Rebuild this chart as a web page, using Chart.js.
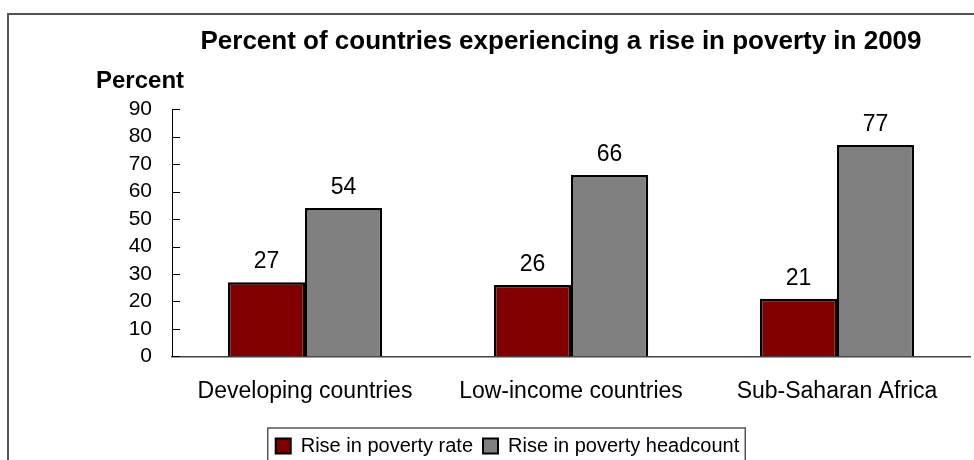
<!DOCTYPE html>
<html>
<head>
<meta charset="utf-8">
<script src="https://cdn.jsdelivr.net/npm/chart.js@4.4.1/dist/chart.umd.min.js"></script>
<style>
  html, body { margin: 0; padding: 0; background: #fff; overflow: hidden; }
  #wrap { position: relative; width: 974px; height: 460px; overflow: hidden; }
  #frame { position: absolute; left: 7px; top: 13px; width: 980px; height: 460px;
           border-top: 2px solid #555; border-left: 2px solid #555; }
  #chart { position: absolute; left: 0; top: 0; }
</style>
</head>
<body>
<div id="wrap">
  <div id="frame"></div>
  <canvas id="chart" width="974" height="466"></canvas>
</div>
<script>
// Veriler
const categories = ['Developing countries', 'Low-income countries', 'Sub-Saharan Africa'];
const povertyRate = [27, 26, 21];
const povertyHeadcount = [54, 66, 77];
const yTicks = [0, 10, 20, 30, 40, 50, 60, 70, 80, 90];

const FONT = 'Liberation Sans, Arial, sans-serif';

// Başlığı sağa kaydır (orijinaldeki gibi)
const titleShift = {
    id: 'titleShift',
    afterLayout(chart) {
        const t = chart.titleBlock;
        if (t) {
            t.left = 152;
            t.right = 970;
        }
    }
};

// Y ekseni: içe dönük çentikler ve "Percent" yazısı
const axisExtras = {
    id: 'axisExtras',
    afterDraw(chart) {
        const ctx = chart.ctx;
        const y = chart.scales.y;
        const x0 = chart.chartArea.left;
        ctx.save();
        ctx.strokeStyle = '#000';
        ctx.lineWidth = 1;
        yTicks.forEach(v => {
            const py = Math.round(y.getPixelForValue(v)) + 0.5;
            ctx.beginPath();
            ctx.moveTo(x0, py);
            ctx.lineTo(x0 + 8, py);
            ctx.stroke();
        });
        ctx.fillStyle = '#000';
        ctx.font = 'bold 24px ' + FONT;
        ctx.textAlign = 'left';
        ctx.textBaseline = 'alphabetic';
        ctx.fillText('Percent', 96, 88);
        ctx.restore();
    }
};

// Çubukların üstüne değer yaz
const barLabels = {
    id: 'barLabels',
    afterDatasetsDraw(chart) {
        const ctx = chart.ctx;
        ctx.save();
        ctx.fillStyle = '#000';
        ctx.font = '23px ' + FONT;
        ctx.textAlign = 'center';
        ctx.textBaseline = 'alphabetic';
        chart.data.datasets.forEach((ds, i) => {
            chart.getDatasetMeta(i).data.forEach((bar, j) => {
                ctx.fillText(ds.data[j], bar.x, bar.y - 14);
            });
        });
        ctx.restore();
    }
};

// Lejant çerçevesi
const legendBox = {
    id: 'legendBox',
    afterDraw(chart) {
        const lg = chart.legend;
        if (!lg || !lg.legendHitBoxes.length) return;
        const first = lg.legendHitBoxes[0];
        const last = lg.legendHitBoxes[lg.legendHitBoxes.length - 1];
        const ctx = chart.ctx;
        ctx.save();
        ctx.strokeStyle = '#555';
        ctx.lineWidth = 1.5;
        ctx.strokeRect(first.left - 8, first.top - 8, last.left + last.width - first.left + 14, 60);
        ctx.restore();
    }
};

new Chart(document.getElementById('chart'), {
    type: 'bar',
    data: {
        labels: categories,
        datasets: [
            {
                label: 'Rise in poverty rate',
                data: povertyRate,
                backgroundColor: '#800000',
                borderColor: '#000',
                borderWidth: 2.5,
                categoryPercentage: 0.58,
                barPercentage: 1.0
            },
            {
                label: 'Rise in poverty headcount',
                data: povertyHeadcount,
                backgroundColor: '#808080',
                borderColor: '#000',
                borderWidth: 2.5,
                categoryPercentage: 0.58,
                barPercentage: 1.0
            }
        ]
    },
    options: {
        responsive: false,
        animation: false,
        layout: { padding: { left: 45, right: 4, top: 0, bottom: 0 } },
        plugins: {
            title: {
                display: true,
                text: 'Percent of countries experiencing a rise in poverty in 2009',
                color: '#000',
                font: { family: FONT, size: 26, weight: 'bold' },
                padding: { top: 26, bottom: 52 }
            },
            legend: {
                position: 'bottom',
                labels: {
                    color: '#000',
                    font: { family: FONT, size: 20 },
                    boxWidth: 15,
                    boxHeight: 15,
                    padding: 10,
                    generateLabels(chart) {
                        return chart.data.datasets.map((ds, i) => ({
                            text: ds.label,
                            fillStyle: ds.backgroundColor,
                            strokeStyle: '#000',
                            lineWidth: 2,
                            datasetIndex: i
                        }));
                    }
                }
            },
            tooltip: { enabled: false }
        },
        scales: {
            x: {
                grid: { display: false, drawTicks: false },
                border: { display: true, color: '#444', width: 1.5 },
                ticks: { color: '#000', font: { family: FONT, size: 23 }, padding: 21 }
            },
            y: {
                min: 0,
                max: 90,
                afterBuildTicks(scale) {
                    scale.ticks = yTicks.map(v => ({ value: v }));
                },
                afterFit(scale) {
                    scale.width = 127;
                },
                grid: { display: false, drawTicks: false },
                border: { display: true, color: '#000', width: 1 },
                ticks: { color: '#000', font: { family: FONT, size: 21 }, padding: 20, autoSkip: false }
            }
        }
    },
    plugins: [titleShift, axisExtras, barLabels, legendBox]
});
</script>
</body>
</html>
